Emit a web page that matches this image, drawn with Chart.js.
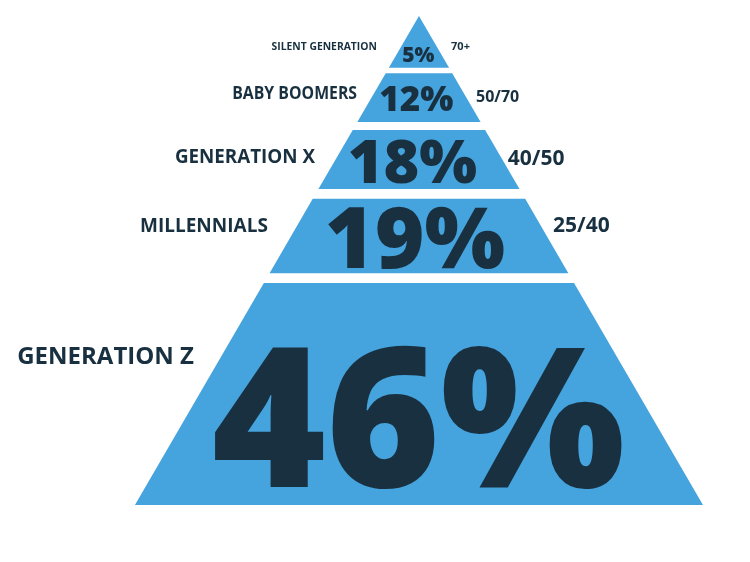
<!DOCTYPE html>
<html>
<head>
<meta charset="utf-8">
<style>
  html, body { margin: 0; padding: 0; background: #ffffff; }
  #wrap { width: 750px; height: 562px; }
</style>
<script src="https://cdn.jsdelivr.net/npm/chart.js@4.4.1/dist/chart.umd.min.js"></script>
</head>
<body>
<div id="wrap"><canvas id="c" width="750" height="562"></canvas></div>
<script>
// ---- data ----
const categories = ['SILENT GENERATION', 'BABY BOOMERS', 'GENERATION X', 'MILLENNIALS', 'GENERATION Z'];
const shares = [5, 12, 18, 19, 46];
const ageRanges = ['70+', '50/70', '40/50', '25/40', ''];

// ---- layout (pyramid levels: 0 = base, 1 = apex; x in half-base widths) ----
const bandTop    = [1.000, 0.883, 0.767, 0.626, 0.454];
const bandBottom = [0.894, 0.783, 0.646, 0.474, 0.000];
const valueBase  = [0.906, 0.806, 0.658, 0.485, 0.037];
const valueX     = [-0.002, -0.009, -0.023, -0.014, -0.002];
const valueFont  = [21, 35, 61, 85, 195];
const catLevel   = [0.937, 0.840, 0.712, 0.569, 0.303];
const catX       = [-0.148, -0.218, -0.366, -0.532, -0.792];
const catFont    = [11, 17, 20, 20, 24];
const catSqueeze = [0.94, 0.93, 0.94, 0.95, 1.0];
const ageLevel   = [0.937, 0.834, 0.708, 0.571, 0];
const ageX       = [0.113, 0.201, 0.313, 0.472, 0];
const ageFont    = [11, 16, 21, 21, 20];

const BLUE = '#45a3dd';
const DARK = '#18303f';

function bandPolygon(i) {
  const t = bandTop[i], b = bandBottom[i];
  return [
    {x: -(1 - b), y: b},
    {x: -(1 - t), y: t},
    {x:  (1 - t), y: t},
    {x:  (1 - b), y: b}
  ];
}

const datasets = categories.map((name, i) => ({
  label: name,
  data: bandPolygon(i),
  showLine: true,
  fill: 'shape',
  backgroundColor: BLUE,
  borderColor: BLUE,
  borderWidth: 0,
  pointRadius: 0,
  pointHoverRadius: 0,
  tension: 0
}));

const labelPlugin = {
  id: 'pyramidLabels',
  afterDatasetsDraw(chart) {
    const ctx = chart.ctx;
    const xs = chart.scales.x, ys = chart.scales.y;
    ctx.save();
    ctx.fillStyle = DARK;
    const drawText = (txt, px, py, font, align, baseline, squeeze) => {
      ctx.save();
      ctx.font = font;
      ctx.textAlign = align;
      ctx.textBaseline = baseline;
      ctx.translate(px, py);
      ctx.scale(squeeze, 1);
      ctx.fillText(txt, 0, 0);
      ctx.restore();
    };
    categories.forEach((name, i) => {
      drawText(shares[i] + '%', xs.getPixelForValue(valueX[i]), ys.getPixelForValue(valueBase[i]),
        '800 ' + valueFont[i] + 'px "Open Sans"', 'center', 'alphabetic', 1.0);
      drawText(name, xs.getPixelForValue(catX[i]), ys.getPixelForValue(catLevel[i]),
        'bold ' + catFont[i] + 'px "Open Sans"', 'right', 'middle', catSqueeze[i]);
      if (ageRanges[i]) {
        drawText(ageRanges[i], xs.getPixelForValue(ageX[i]), ys.getPixelForValue(ageLevel[i]),
          'bold ' + ageFont[i] + 'px "Open Sans"', 'left', 'middle', 1.0);
      }
    });
    ctx.restore();
  }
};

new Chart(document.getElementById('c'), {
  type: 'scatter',
  data: { datasets },
  options: {
    responsive: false,
    animation: false,
    layout: { padding: 0 },
    scales: {
      x: { type: 'linear', min: -1.475, max: 1.1655, display: false },
      y: { type: 'linear', min: -0.1166, max: 1.0327, display: false }
    },
    plugins: {
      legend: { display: false },
      tooltip: { enabled: false },
      title: { display: false }
    }
  },
  plugins: [labelPlugin]
});
</script>
</body>
</html>
